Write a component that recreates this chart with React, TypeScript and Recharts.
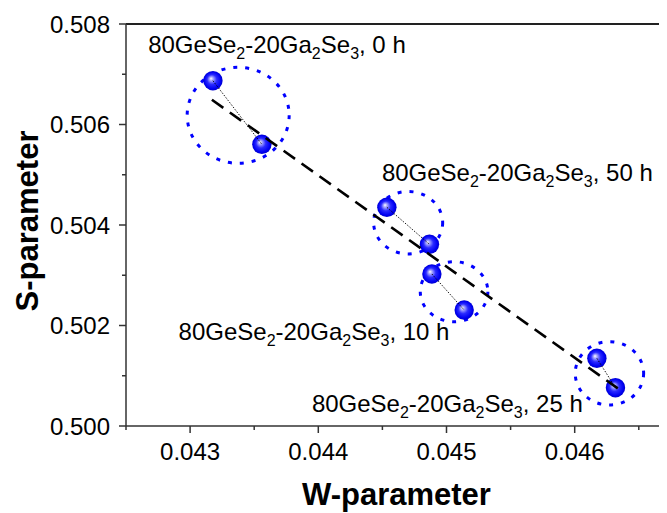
import React from 'react';
import { ScatterChart, Scatter, XAxis, YAxis, ReferenceLine, Label } from 'recharts';

// ---- data ----
const wValues = [0.043178, 0.04356, 0.044535, 0.044867, 0.044886, 0.045138, 0.046173, 0.046318];
const sValues = [0.506871, 0.505606, 0.504352, 0.503616, 0.503025, 0.502308, 0.501347, 0.500762];
const pairIndex = [[0, 1], [2, 3], [4, 5], [6, 7]];
const groupW = [0.043375, 0.044701, 0.045059, 0.046271];
const groupS = [0.506183, 0.504046, 0.502673, 0.501048];
const fitW = [0.04317, 0.046355];
const fitS = [0.506492, 0.500715];
const labelTimes = ['0 h', '50 h', '10 h', '25 h'];
const labelW = [0.042673, 0.044496, 0.04291, 0.04395];
const labelS = [0.507428, 0.504884, 0.501711, 0.500283];
const xTicks = [0.0425, 0.043, 0.0435, 0.044, 0.0445, 0.045, 0.0455, 0.046, 0.0465];
const yTicks = [0.5, 0.501, 0.502, 0.503, 0.504, 0.505, 0.506, 0.507, 0.508];
const xDomain = [0.0425, 0.04672];
const yDomain = [0.5, 0.508];
const xTitle = 'W-parameter';
const yTitle = 'S-parameter';

// ---- styles ----
const FONT = '"Liberation Sans", Arial, sans-serif';
const AXIS = '#333';
const BLUE = '#0000ff';
const groupRx = [51, 34.5, 33.8, 34.2];
const groupRy = [48, 31.2, 30, 31.7];
const TICK_SIZE = 8;
const TICK_MARGIN = 2;

const points = wValues.map((w, i) => ({ w, s: sValues[i] }));
const pairs = pairIndex.map(([a, b]) => [points[a], points[b]]);
const groups = groupW.map((w, i) => ({ w, s: groupS[i], i }));
const fit = fitW.map((w, i) => ({ w, s: fitS[i] }));
const labels = labelW.map((w, i) => ({ w, s: labelS[i], time: labelTimes[i] }));

const isMajorX = (v: number) => Math.abs(v * 1000 - Math.round(v * 1000)) < 1e-6;
const isMajorY = (v: number) => Math.round(v * 1000) % 2 === 0;

const XTick = (p: any) => {
  const v = p.payload.value;
  const ax = p.y - TICK_SIZE - TICK_MARGIN;
  const major = isMajorX(v);
  return (
    <g>
      <line x1={p.x} x2={p.x} y1={ax} y2={ax + (major ? 7 : 4)} stroke={AXIS} strokeWidth={1.5} />
      {major && (
        <text x={p.x} y={ax + 34} textAnchor="middle" fontSize={24} fontFamily={FONT} fill="#000">
          {v.toFixed(3)}
        </text>
      )}
    </g>
  );
};

const YTick = (p: any) => {
  const v = p.payload.value;
  const ax = p.x + TICK_SIZE + TICK_MARGIN;
  const major = isMajorY(v);
  return (
    <g>
      <line x1={ax} x2={ax - (major ? 7 : 4)} y1={p.y} y2={p.y} stroke={AXIS} strokeWidth={1.5} />
      {major && (
        <text x={ax - 16} y={p.y + 8.5} textAnchor="end" fontSize={24} fontFamily={FONT} fill="#000">
          {v.toFixed(3)}
        </text>
      )}
    </g>
  );
};

const Sphere = (p: any) => (
  <g>
    <defs>
      <radialGradient id="sphereGrad" cx="0.5" cy="0.5" r="0.5" fx="0.4" fy="0.38">
        <stop offset="0" stopColor="#ffffff" />
        <stop offset="0.15" stopColor="#b8b8ff" />
        <stop offset="0.5" stopColor="#2a2aff" />
        <stop offset="0.85" stopColor="#0000f2" />
        <stop offset="1" stopColor="#0000cc" />
      </radialGradient>
    </defs>
    <circle cx={p.cx} cy={p.cy} r={9.7} fill="url(#sphereGrad)" />
  </g>
);

const Ring = (p: any) => {
  const i = p.payload.i;
  return (
    <ellipse
      cx={p.cx}
      cy={p.cy}
      rx={groupRx[i]}
      ry={groupRy[i]}
      fill="none"
      stroke={BLUE}
      strokeWidth={3}
      strokeDasharray="4 8"
    />
  );
};

const Empty = () => <g />;

const SUB = 16;
const SH = 6;
const SampleLabel = (p: any) => (
  <text x={p.cx} y={p.cy} fontSize={24} fontFamily={FONT} fill="#000">
    <tspan>80GeSe</tspan>
    <tspan dy={SH} fontSize={SUB}>2</tspan>
    <tspan dy={-SH}>-20Ga</tspan>
    <tspan dy={SH} fontSize={SUB}>2</tspan>
    <tspan dy={-SH}>Se</tspan>
    <tspan dy={SH} fontSize={SUB}>3</tspan>
    <tspan dy={-SH}>{', ' + p.payload.time}</tspan>
  </text>
);

const renderYTitle = (props: any) => {
  const vb = props.viewBox;
  const cx = vb.x + 30;
  const cy = vb.y + vb.height / 2 - 4;
  return (
    <text
      x={cx}
      y={cy}
      transform={`rotate(-90 ${cx} ${cy})`}
      textAnchor="middle"
      fontSize={31}
      fontWeight="bold"
      fontFamily={FONT}
      fill="#000"
    >
      {yTitle}
    </text>
  );
};

const renderXTitle = (props: any) => {
  const vb = props.viewBox;
  return (
    <text
      x={vb.x + vb.width / 2}
      y={vb.y + 79}
      textAnchor="middle"
      fontSize={31}
      fontWeight="bold"
      fontFamily={FONT}
      fill="#000"
    >
      {xTitle}
    </text>
  );
};

export default function App() {
  return (
    <ScatterChart width={659} height={505} margin={{ top: 16, right: 0, bottom: 0, left: 0 }}>
      <XAxis
        type="number"
        dataKey="w"
        domain={xDomain}
        ticks={xTicks}
        interval={0}
        height={87}
        tickSize={TICK_SIZE}
        tickMargin={TICK_MARGIN}
        tickLine={false}
        tick={<XTick />}
        axisLine={{ stroke: AXIS, strokeWidth: 1.5 }}
        allowDataOverflow
      >
        <Label content={renderXTitle} />
      </XAxis>
      <YAxis
        type="number"
        dataKey="s"
        domain={yDomain}
        ticks={yTicks}
        interval={0}
        width={118}
        tickSize={TICK_SIZE}
        tickMargin={TICK_MARGIN}
        tickLine={false}
        tick={<YTick />}
        axisLine={{ stroke: AXIS, strokeWidth: 1.5 }}
        allowDataOverflow
      >
        <Label content={renderYTitle} />
      </YAxis>
      <ReferenceLine y={yDomain[1]} stroke="#222" strokeWidth={2} />
      <Scatter data={groups} shape={<Ring />} isAnimationActive={false} />
      <Scatter data={points} shape={<Sphere />} isAnimationActive={false} />
      {pairs.map((pd, k) => (
        <Scatter
          key={k}
          data={pd}
          shape={<Empty />}
          line={{ stroke: '#000', strokeWidth: 0.9, strokeDasharray: '1.5 1.5' }}
          lineType="joint"
          isAnimationActive={false}
        />
      ))}
      <Scatter
        data={fit}
        shape={<Empty />}
        line={{ stroke: '#000', strokeWidth: 2.6, strokeDasharray: '14 8' }}
        lineType="joint"
        isAnimationActive={false}
      />
      <Scatter data={labels} shape={<SampleLabel />} isAnimationActive={false} />
    </ScatterChart>
  );
}
